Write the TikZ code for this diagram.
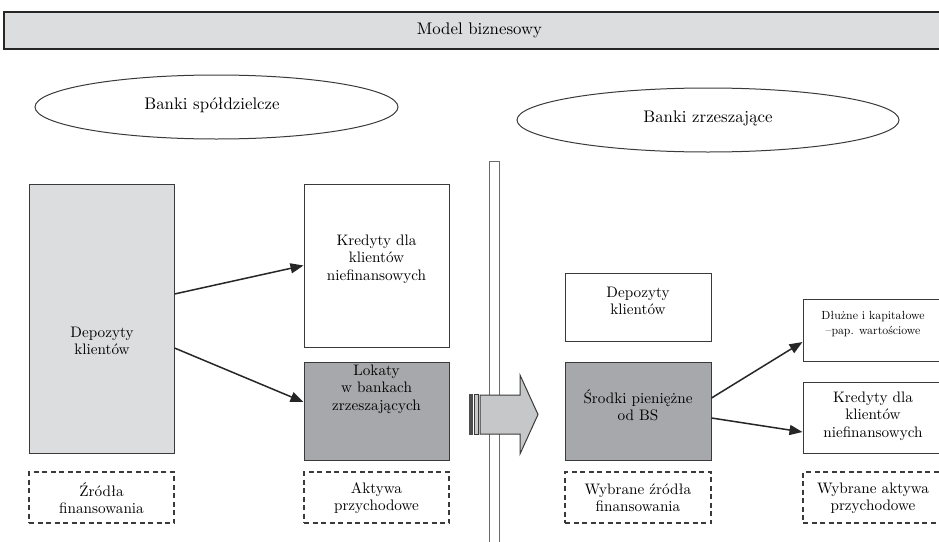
\documentclass[tikz,border=0pt]{standalone}
\usepackage{fontspec}
\setmainfont{lmroman10-regular.otf}
\usetikzlibrary{arrows.meta,shapes.geometric}
\definecolor{lightfill}{HTML}{DCDDDF}
\definecolor{darkfill}{HTML}{A7A8AB}
\definecolor{arrowfill}{HTML}{C6C7C9}
\definecolor{boxline}{HTML}{3A3A3A}
\definecolor{barline}{HTML}{6A6A6A}
\begin{document}
\begin{tikzpicture}[x=1pt,y=-1pt,
  box/.style={draw=boxline, line width=1pt, rectangle, inner sep=0pt},
  dashbox/.style={draw=boxline, line width=1.2pt, dash pattern=on 5pt off 3.5pt, rectangle, inner sep=0pt},
  txt/.style={align=center, inner sep=0pt, text=black, font=\fontsize{15.2}{17.4}\selectfont},
  smalltxt/.style={align=center, inner sep=0pt, text=black, font=\fontsize{11.8}{14.5}\selectfont},
  bigtxt/.style={align=center, inner sep=0pt, text=black, font=\fontsize{16.8}{19}\selectfont},
  ell/.style={draw=boxline, line width=1pt, ellipse, inner sep=0pt},
  conn/.style={draw=black!85, line width=1.5pt, -{Triangle[length=13pt,width=10pt]}}]
\useasboundingbox (0,0) rectangle (939,541);

% title
\node[box, draw=black!85, line width=1.4pt, fill=lightfill, minimum width=951pt, minimum height=37pt] (title) at (479.5,30.5) {};
\node[bigtxt] (titletxt) at (479.5,30.5) {Model biznesowy};

% ellipses
\node[ell, minimum width=363pt, minimum height=64pt] (ellL) at (216.5,107) {};
\node[bigtxt] (ellLtxt) at (212,105) {Banki spółdzielcze};
\node[ell, minimum width=382pt, minimum height=64pt] (ellR) at (708,120) {};
\node[bigtxt] (ellRtxt) at (708,118) {Banki zrzeszające};

% separator bar
\node[draw=barline, line width=1pt, fill=white, rectangle, inner sep=0pt, minimum width=10pt, minimum height=390pt] (bar) at (494,356) {};

% left side
\node[box, fill=lightfill, minimum width=145pt, minimum height=269pt] (depL) at (101.5,318.5) {};
\node[txt] (depLtxt) at (102,341) {Depozyty\\klientów};
\node[box, fill=white, minimum width=145pt, minimum height=163pt] (kredL) at (376.5,265.5) {};
\node[txt] (kredLtxt) at (376.5,259) {Kredyty dla\\klientów\\niefinansowych};
\node[box, fill=darkfill, minimum width=145pt, minimum height=98pt] (lokL) at (376.5,411) {};
\node[txt] (lokLtxt) at (376.5,389) {Lokaty\\w bankach\\zrzeszających};
\node[dashbox, minimum width=145pt, minimum height=51pt] (srcL) at (101.5,497.5) {};
\node[txt] (srcLtxt) at (101.5,498) {Źródła\\finansowania};
\node[dashbox, minimum width=145pt, minimum height=51pt] (aktL) at (376.5,497.5) {};
\node[txt] (aktLtxt) at (376.5,498) {Aktywa\\przychodowe};

% right side
\node[box, fill=white, minimum width=146pt, minimum height=68pt] (depR) at (638,307) {};
\node[txt] (depRtxt) at (638,301) {Depozyty\\klientów};
\node[box, fill=darkfill, minimum width=146pt, minimum height=98pt] (srodR) at (638,411) {};
\node[txt] (srodRtxt) at (638,405) {Środki pieniężne\\od BS};
\node[box, fill=white, minimum width=140pt, minimum height=62pt] (dluzR) at (873,330) {};
\node[smalltxt] (dluzRtxt) at (873,324) {Dłużne i kapitałowe\\–pap. wartościowe};
\node[box, fill=white, minimum width=140pt, minimum height=71pt] (kredR) at (873,417.5) {};
\node[txt] (kredRtxt) at (873,416) {Kredyty dla\\klientów\\niefinansowych};
\node[dashbox, minimum width=146pt, minimum height=51pt] (srcR) at (638,497.5) {};
\node[txt] (srcRtxt) at (638,498) {Wybrane źródła\\finansowania};
\node[dashbox, minimum width=140pt, minimum height=51pt] (aktR) at (873,497.5) {};
\node[txt] (aktRtxt) at (873,498) {Wybrane aktywa\\przychodowe};

% big block arrow
\fill[black!70] (469,394) rectangle (472.5,434.5);
\draw[boxline, line width=0.8pt, fill=arrowfill] (474.5,394.5) rectangle (478,434);
\draw[boxline, line width=1pt, fill=arrowfill] (480,395) -- (520,395) -- (520,375) -- (538,414.5) -- (520,454) -- (520,434) -- (480,434) -- cycle;

% connectors
\draw[conn] ([yshift=24.5pt]depL.east) -- (kredL.west);
\draw[conn] ([yshift=-29.5pt]depL.east) -- ([yshift=9pt]lokL.west);
\draw[conn] ([yshift=13pt]srodR.east) -- ([yshift=-12pt]dluzR.west);
\draw[conn] ([yshift=-7pt]srodR.east) -- ([yshift=-14.5pt]kredR.west);
\end{tikzpicture}
\end{document}
